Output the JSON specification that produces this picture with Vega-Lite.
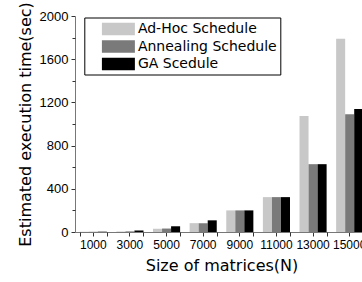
{
  "$schema": "https://vega.github.io/schema/vega-lite/v6.json",
  "width": 287,
  "height": 216,
  "autosize": {"type": "none"},
  "padding": {"left": 75, "top": 16, "right": 0, "bottom": 50},
  "background": "white",
  "config": {
    "font": "DejaVu Sans",
    "view": {"stroke": null},
    "axis": {"grid": false, "domainColor": "#777777", "tickColor": "#333333", "labelColor": "black", "titleColor": "black", "titleFontWeight": "normal", "labelFont": "Liberation Sans", "titleFont": "DejaVu Sans"}
  },
  "data": {
    "values": [
      {"N": "1000", "schedule": "Ad-Hoc Schedule", "time": 2},
      {"N": "1000", "schedule": "Annealing Schedule", "time": 2},
      {"N": "1000", "schedule": "GA Scedule", "time": 3},
      {"N": "3000", "schedule": "Ad-Hoc Schedule", "time": 5},
      {"N": "3000", "schedule": "Annealing Schedule", "time": 6},
      {"N": "3000", "schedule": "GA Scedule", "time": 14},
      {"N": "5000", "schedule": "Ad-Hoc Schedule", "time": 30},
      {"N": "5000", "schedule": "Annealing Schedule", "time": 32},
      {"N": "5000", "schedule": "GA Scedule", "time": 53},
      {"N": "7000", "schedule": "Ad-Hoc Schedule", "time": 82},
      {"N": "7000", "schedule": "Annealing Schedule", "time": 82},
      {"N": "7000", "schedule": "GA Scedule", "time": 108},
      {"N": "9000", "schedule": "Ad-Hoc Schedule", "time": 200},
      {"N": "9000", "schedule": "Annealing Schedule", "time": 200},
      {"N": "9000", "schedule": "GA Scedule", "time": 200},
      {"N": "11000", "schedule": "Ad-Hoc Schedule", "time": 323},
      {"N": "11000", "schedule": "Annealing Schedule", "time": 323},
      {"N": "11000", "schedule": "GA Scedule", "time": 323},
      {"N": "13000", "schedule": "Ad-Hoc Schedule", "time": 1073},
      {"N": "13000", "schedule": "Annealing Schedule", "time": 628},
      {"N": "13000", "schedule": "GA Scedule", "time": 628},
      {"N": "15000", "schedule": "Ad-Hoc Schedule", "time": 1790},
      {"N": "15000", "schedule": "Annealing Schedule", "time": 1090},
      {"N": "15000", "schedule": "GA Scedule", "time": 1138}
    ]
  },
  "layer": [
    {
      "mark": {"type": "bar"},
      "encoding": {
        "x": {
          "field": "N", "type": "ordinal", "sort": null,
          "scale": {"range": [0, 293], "paddingInner": 0.26, "paddingOuter": 0.13},
          "axis": {"orient": "bottom", "labelAngle": 0, "labelFontSize": 12, "tickSize": 4, "labelPadding": 3, "title": "Size of matrices(N)", "titleFontSize": 16, "titlePadding": 7}
        },
        "xOffset": {"field": "schedule", "type": "nominal", "sort": ["Ad-Hoc Schedule", "Annealing Schedule", "GA Scedule"], "scale": {"paddingInner": 0, "paddingOuter": 0}},
        "y": {
          "field": "time", "type": "quantitative",
          "scale": {"domain": [0, 2000], "nice": false},
          "axis": {"orient": "left", "values": [0, 400, 800, 1200, 1600, 2000], "format": "d", "labelFontSize": 13, "tickSize": 4, "labelPadding": 3, "title": "Estimated execution time(sec)", "titleFontSize": 16, "titlePadding": 6}
        },
        "color": {
          "field": "schedule", "type": "nominal",
          "sort": ["Ad-Hoc Schedule", "Annealing Schedule", "GA Scedule"],
          "scale": {"range": ["#c8c8c8", "#7a7a7a", "#000000"]},
          "legend": {
            "title": null, "orient": "none", "legendX": 9.3, "legendY": 1.5,
            "symbolType": "M-2,-0.76H2V0.76H-2Z", "symbolSize": 272, "symbolStrokeWidth": 0, "symbolOpacity": 1,
            "symbolOffset": 22.6,
            "labelFont": "DejaVu Sans", "labelFontSize": 14, "labelOffset": 11, "padding": 3, "rowPadding": 1.5,
            "strokeColor": "black", "fillColor": "white"
          }
        }
      }
    },
    {
      "mark": {"type": "bar", "opacity": 0},
      "encoding": {
        "x": {
          "field": "N", "type": "ordinal", "sort": null,
          "axis": {"orient": "bottom", "labels": false, "domain": false, "tickBand": "extent", "tickSize": 4, "title": null}
        },
        "xOffset": {"field": "schedule", "type": "nominal", "sort": ["Ad-Hoc Schedule", "Annealing Schedule", "GA Scedule"]},
        "y": {
          "field": "time", "type": "quantitative",
          "axis": {"orient": "left", "values": [200, 600, 1000, 1400, 1800], "labels": false, "domain": false, "tickSize": 3, "title": null}
        }
      }
    }
  ],
  "resolve": {"axis": {"x": "independent", "y": "independent"}}
}
